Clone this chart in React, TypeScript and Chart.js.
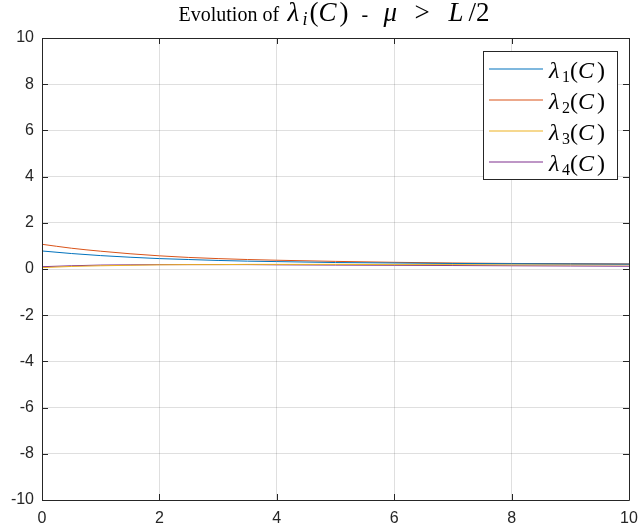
import React, { useEffect, useRef } from "react";
import { Chart, registerables } from "chart.js";

Chart.register(...registerables);

// ---- data ----
const xValues = [0, 0.5, 1, 1.5, 2, 2.5, 3, 3.5, 4, 5, 6, 7, 8, 9, 10];
const lambda1 = [0.78, 0.67, 0.58, 0.51, 0.45, 0.41, 0.37, 0.34, 0.32, 0.28, 0.26, 0.24, 0.23, 0.22, 0.21];
const lambda2 = [1.07, 0.9, 0.77, 0.66, 0.57, 0.5, 0.45, 0.41, 0.38, 0.33, 0.29, 0.26, 0.24, 0.23, 0.22];
const lambda3 = [0.06, 0.11, 0.14, 0.16, 0.18, 0.19, 0.19, 0.2, 0.2, 0.2, 0.19, 0.19, 0.18, 0.18, 0.18];
const lambda4 = [0.1, 0.14, 0.17, 0.18, 0.19, 0.19, 0.19, 0.19, 0.18, 0.17, 0.16, 0.15, 0.14, 0.13, 0.12];

const xTicks = [0, 2, 4, 6, 8, 10];
const yTicks = [-10, -8, -6, -4, -2, 0, 2, 4, 6, 8, 10];

const seriesNames = ["1", "2", "3", "4"];
const seriesColors = ["#0072BD", "#D95319", "#EDB120", "#7E2F8E"];
const seriesValues = [lambda1, lambda2, lambda3, lambda4];

const AXIS_COLOR = "#262626";
const GRID_COLOR = "rgba(38,38,38,0.15)";
const TICK_FONT = { family: "'Liberation Sans', Arial, sans-serif", size: 16 };
const SERIF = "'Liberation Serif', 'Times New Roman', serif";

// text piece: t = text, dx = offset from the text origin, size = font px, italic
type Piece = { t: string; dx: number; size: number; italic?: boolean; dy?: number };

function drawPieces(ctx: CanvasRenderingContext2D, pieces: Piece[], x: number, y: number) {
  ctx.textBaseline = "alphabetic";
  ctx.textAlign = "left";
  for (const p of pieces) {
    ctx.font = `${p.italic ? "italic " : ""}${p.size}px ${SERIF}`;
    ctx.fillText(p.t, x + p.dx, y + (p.dy || 0));
  }
}

const titlePieces: Piece[] = [
  { t: "Evolution of", dx: 0, size: 20 },
  { t: "λ", dx: 109, size: 27, italic: true },
  { t: "i", dx: 124, size: 18, italic: true, dy: 4 },
  { t: "(", dx: 131, size: 27 },
  { t: "C", dx: 140, size: 27, italic: true },
  { t: ")", dx: 161, size: 27 },
  { t: "-", dx: 183, size: 20 },
  { t: "μ", dx: 205, size: 27, italic: true },
  { t: ">", dx: 236, size: 27 },
  { t: "L", dx: 270, size: 27, italic: true },
  { t: "/2", dx: 290, size: 27 },
];

function legendPieces(n: string): Piece[] {
  return [
    { t: "λ", dx: 0, size: 24, italic: true },
    { t: n, dx: 13, size: 16, dy: 4 },
    { t: "(", dx: 21, size: 24 },
    { t: "C", dx: 29, size: 24, italic: true },
    { t: ")", dx: 48, size: 24 },
  ];
}

const matlabPlugin = {
  id: "matlabDecor",
  afterDraw(chart: any) {
    const ctx: CanvasRenderingContext2D = chart.ctx;
    const { left, right, top, bottom } = chart.chartArea;
    const xs = chart.scales.x;
    const ys = chart.scales.y;
    ctx.save();
    // box
    ctx.strokeStyle = AXIS_COLOR;
    ctx.lineWidth = 1;
    ctx.beginPath();
    ctx.rect(Math.round(left) + 0.5, Math.round(top) + 0.5, Math.round(right - left), Math.round(bottom - top));
    ctx.stroke();
    // inward ticks
    const tl = 6;
    ctx.beginPath();
    for (const v of xTicks) {
      const px = Math.round(xs.getPixelForValue(v)) + 0.5;
      ctx.moveTo(px, bottom);
      ctx.lineTo(px, bottom - tl);
      ctx.moveTo(px, top);
      ctx.lineTo(px, top + tl);
    }
    for (const v of yTicks) {
      const py = Math.round(ys.getPixelForValue(v)) + 0.5;
      ctx.moveTo(left, py);
      ctx.lineTo(left + tl, py);
      ctx.moveTo(right, py);
      ctx.lineTo(right - tl, py);
    }
    ctx.stroke();

    // title
    ctx.fillStyle = "#000000";
    drawPieces(ctx, titlePieces, (left + right) / 2 - 157, 21);

    // legend
    const bx = 483.5, by = 51.5, bw = 134, bh = 128;
    ctx.fillStyle = "#ffffff";
    ctx.fillRect(bx, by, bw, bh);
    ctx.strokeStyle = AXIS_COLOR;
    ctx.lineWidth = 1;
    ctx.strokeRect(bx, by, bw, bh);
    seriesNames.forEach((n, i) => {
      const ly = 69 + i * 31;
      ctx.strokeStyle = seriesColors[i];
      ctx.lineWidth = 1.2;
      ctx.beginPath();
      ctx.moveTo(489, ly);
      ctx.lineTo(543, ly);
      ctx.stroke();
      ctx.fillStyle = "#000000";
      drawPieces(ctx, legendPieces(n), 549, ly + 8.5);
    });
    ctx.restore();
  },
};

export default function App() {
  const ref = useRef<HTMLCanvasElement | null>(null);
  useEffect(() => {
    if (!ref.current) return;
    const chart = new Chart(ref.current, {
      type: "line",
      data: {
        datasets: seriesValues.map((vals, i) => ({
          label: `lambda${seriesNames[i]}`,
          data: xValues.map((x, j) => ({ x, y: vals[j] })),
          borderColor: seriesColors[i],
          backgroundColor: seriesColors[i],
          borderWidth: 1,
          pointRadius: 0,
          cubicInterpolationMode: "monotone" as const,
          fill: false,
        })),
      },
      options: {
        animation: false,
        responsive: false,
        maintainAspectRatio: false,
        layout: { padding: { top: 38, right: 10, left: 0, bottom: 0 } },
        plugins: {
          legend: { display: false },
          title: { display: false },
          tooltip: { enabled: false },
        },
        scales: {
          x: {
            type: "linear",
            min: 0,
            max: 10,
            afterBuildTicks: (s: any) => {
              s.ticks = xTicks.map((v) => ({ value: v }));
            },
            afterFit: (s: any) => {
              s.height = 31;
              s.paddingLeft = 0;
              s.paddingRight = 0;
            },
            grid: { color: GRID_COLOR, drawTicks: false },
            border: { display: false },
            ticks: { padding: 9, font: TICK_FONT, color: AXIS_COLOR, maxRotation: 0, autoSkip: false },
          },
          y: {
            type: "linear",
            min: -10,
            max: 10,
            afterBuildTicks: (s: any) => {
              s.ticks = yTicks.map((v) => ({ value: v }));
            },
            afterFit: (s: any) => {
              s.width = 42;
              s.paddingTop = 0;
              s.paddingBottom = 0;
            },
            grid: { color: GRID_COLOR, drawTicks: false },
            border: { display: false },
            ticks: { padding: 8, font: TICK_FONT, color: AXIS_COLOR, autoSkip: false },
          },
        },
      },
      plugins: [matlabPlugin],
    });
    return () => chart.destroy();
  }, []);
  return (
    <div style={{ position: "fixed", left: 0, top: 0, width: 639, height: 531, background: "#fff" }}>
      <canvas ref={ref} width={639} height={531} />
    </div>
  );
}
